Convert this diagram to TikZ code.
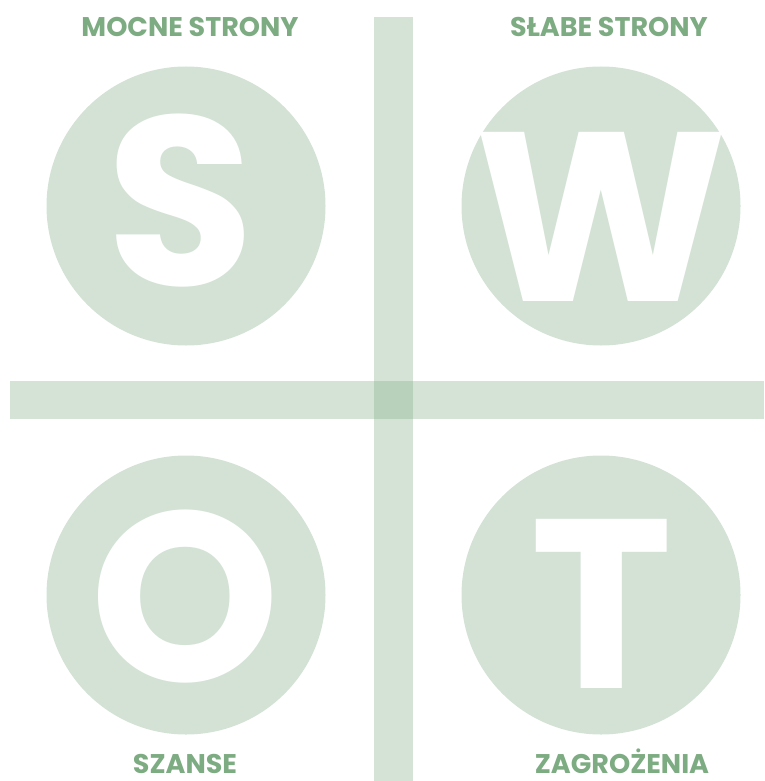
\documentclass[tikz,border=0pt]{standalone}
\usepackage{fontspec}
\setmainfont{Poppins}
\usepackage{tikz}
\usetikzlibrary{positioning}
\definecolor{swotfill}{HTML}{D3E2D5}
\definecolor{swotbar}{HTML}{7DAB82}
\definecolor{swottext}{HTML}{7DAB82}

\begin{document}
\begin{tikzpicture}[
        x=1pt, y=-1pt,
        circlebox/.style={circle, fill=swotfill, minimum size=279pt, inner sep=0pt},
        letter/.style={anchor=base, inner sep=0pt, text=white, font=\fontsize{241}{241}\selectfont\bfseries},
        caption/.style={anchor=base, inner sep=0pt, text=swottext, font=\fontsize{27}{27}\selectfont\bfseries},
        bar/.style={fill=swotbar, opacity=0.33}
    ]
    \useasboundingbox (0,0) rectangle (764,781);

    % circles
    \node (cS) [circlebox] at (186,206) {};
    \node (cW) [circlebox] at (601,206) {};
    \node (cO) [circlebox] at (186,595) {};
    \node (cT) [circlebox] at (601,595) {};

    % letters
    \node (lS) [letter] at (181,285) {S};
    \node (lW) [letter] at (601.5,301) {W};
    \node (lO) [letter] at (185,681) {O};
    \node (lT) [letter] at (601.5,688) {T};

    % cross
    \fill[bar] (374,17) rectangle (413,781);
    \fill[bar] (10,381) rectangle (764,419);

    % captions
    \node (mocne) [caption] at (190,37) {MOCNE STRONY};
    \node (slabe) [caption] at (609,37) {SŁABE STRONY};
    \node (szanse) [caption] at (185,773) {SZANSE};
    \node (zagrozenia) [caption] at (622,773) {ZAGROŻENIA};
\end{tikzpicture}
\end{document}
